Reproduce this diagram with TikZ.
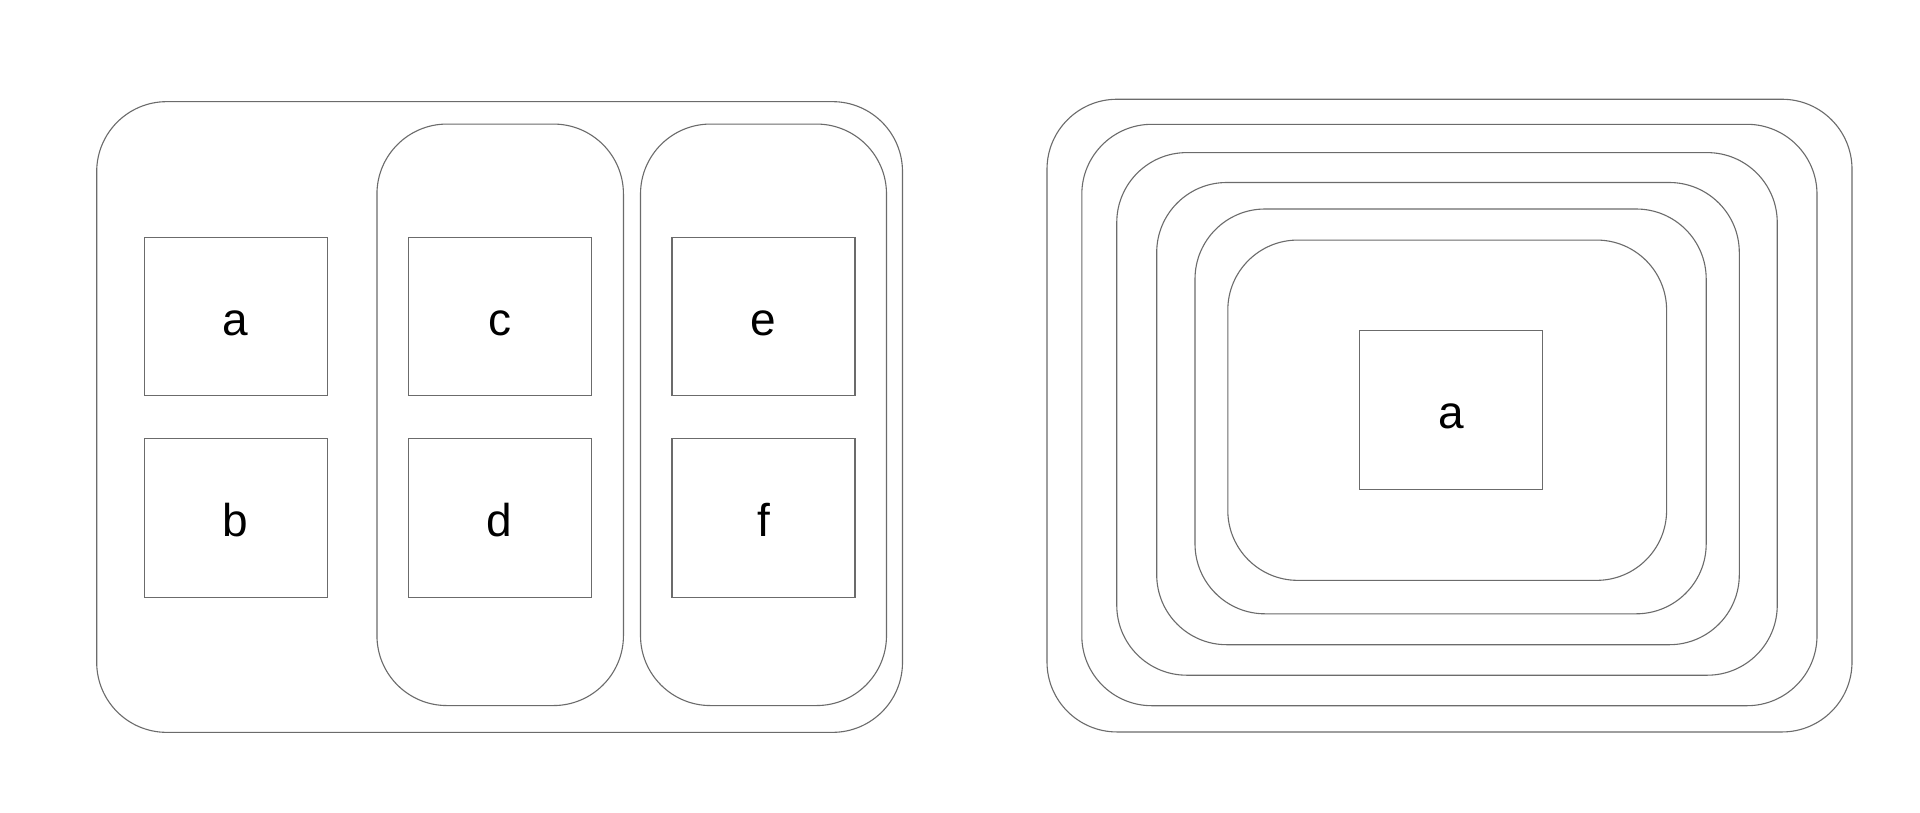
\documentclass[tikz,border=0pt]{standalone}
\usepackage{fontspec}
\setmainfont{Liberation Sans}
\begin{document}
\begin{tikzpicture}[x=1pt,y=-1pt,
  linecol/.style={draw=black!58, line width=1.1pt},
  group/.style={linecol, rounded corners=70pt, inner sep=0pt, outer sep=0pt},
  item/.style={linecol, minimum width=183pt, minimum height=158.5pt, inner sep=0pt,
    text height=37pt, text depth=0pt, font=\fontsize{46}{55}\selectfont}]
\useasboundingbox[fill=white] (0,0) rectangle (1920,812);
% left group
\node[group, minimum width=805.8pt, minimum height=630.7pt] (outerL) at (499.6,417) {};
\node[group, minimum width=246.5pt, minimum height=581.5pt] (colA) at (500.2,414.8) {};
\node[group, minimum width=246pt, minimum height=581.5pt] (colB) at (763.5,414.8) {};
\node[item] (a) at (235.7,316.5) {a};
\node[item] (b) at (235.7,518) {b};
\node[item] (c) at (499.7,316.5) {c};
\node[item] (d) at (499.7,518) {d};
\node[item] (e) at (763.5,316.5) {e};
\node[item] (f) at (763.5,518) {f};
% right group
\node[group, minimum width=805pt, minimum height=632.7pt] (r1) at (1449.5,415.6) {};
\node[group, minimum width=735.2pt, minimum height=581.4pt] (r2) at (1449.4,415) {};
\node[group, minimum width=660.5pt, minimum height=522.6pt] (r3) at (1447,413.9) {};
\node[group, minimum width=582.6pt, minimum height=462.2pt] (r4) at (1448,413.6) {};
\node[group, minimum width=511.2pt, minimum height=404.8pt] (r5) at (1450.6,411.4) {};
\node[group, minimum width=438.8pt, minimum height=340.3pt] (r6) at (1447.2,410.2) {};
\node[item, minimum height=158.7pt] (a2) at (1450.8,409.7) {a};
\end{tikzpicture}
\end{document}
